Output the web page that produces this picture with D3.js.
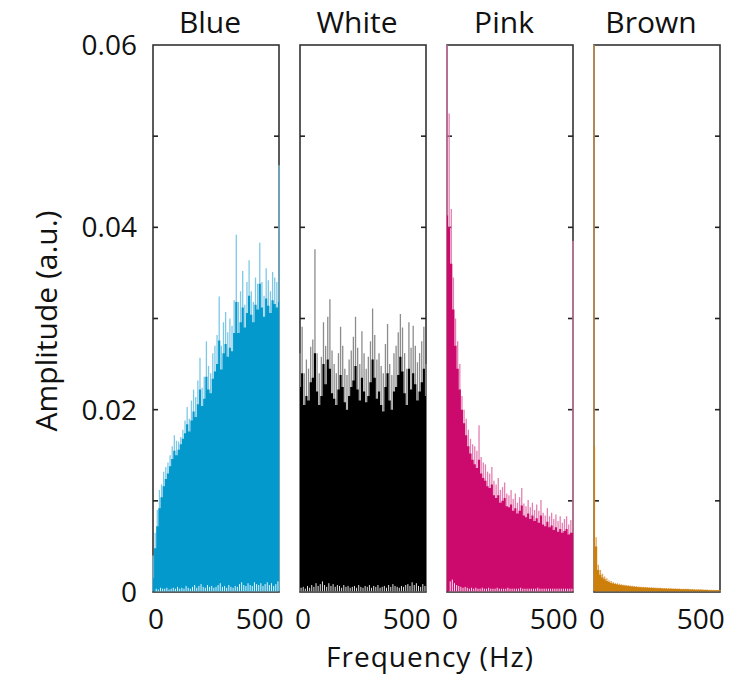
<!DOCTYPE html>
<html>
<head>
<meta charset="utf-8">
<script src="https://cdn.jsdelivr.net/npm/d3@7/dist/d3.min.js"></script>
<style>
  body { margin: 0; background: #fff; }
  svg text { font-family: "Open Sans", sans-serif; fill: #111; }
</style>
</head>
<body>
<div id="chart"></div>
<script>
// Noise spectra, one panel per colour
const panelNames = ['Blue', 'White', 'Pink', 'Brown'];

// frequency bins (Hz)
const freqs = [0, 10, 20, 30, 40, 50, 60, 70, 80, 90, 100, 110, 120, 130, 140, 150, 160, 170, 180, 190,
  200, 210, 220, 230, 240, 250, 260, 270, 280, 290, 300, 310, 320, 330, 340, 350, 360, 370, 380, 390,
  400, 410, 420, 430, 440, 450, 460, 470, 480, 490, 500, 510, 520, 530, 540, 550, 560, 570, 580, 590];

// spike tops (light), dense fill level (solid) and small dips at the floor
const bluePeak = [0.0040, 0.0065, 0.0090, 0.0112, 0.0118, 0.0132, 0.0137, 0.0142, 0.0150, 0.0160,
  0.0172, 0.0166, 0.0165, 0.0170, 0.0178, 0.0188, 0.0203, 0.0190, 0.0210, 0.0222,
  0.0214, 0.0232, 0.0257, 0.0224, 0.0236, 0.0275, 0.0248, 0.0240, 0.0262, 0.0270,
  0.0282, 0.0324, 0.0270, 0.0296, 0.0307, 0.0285, 0.0300, 0.0292, 0.0320, 0.0392,
  0.0318, 0.0330, 0.0352, 0.0315, 0.0340, 0.0364, 0.0330, 0.0318, 0.0345, 0.0338,
  0.0383, 0.0340, 0.0325, 0.0355, 0.0342, 0.0330, 0.0351, 0.0345, 0.0340, 0.0468];
const blueBody = [0.0015, 0.0048, 0.0072, 0.0092, 0.0104, 0.0116, 0.0124, 0.0130, 0.0138, 0.0146,
  0.0155, 0.0150, 0.0156, 0.0162, 0.0168, 0.0174, 0.0184, 0.0176, 0.0188, 0.0198,
  0.0192, 0.0206, 0.0222, 0.0204, 0.0212, 0.0236, 0.0222, 0.0218, 0.0234, 0.0242,
  0.0250, 0.0276, 0.0244, 0.0262, 0.0272, 0.0258, 0.0268, 0.0264, 0.0284, 0.0318,
  0.0284, 0.0296, 0.0312, 0.0290, 0.0306, 0.0325, 0.0304, 0.0296, 0.0315, 0.0310,
  0.0338, 0.0312, 0.0302, 0.0322, 0.0314, 0.0306, 0.0320, 0.0316, 0.0312, 0.0318];
const blueDip = [0, 0.0002, 0.0001, 0.0003, 0.0002, 0.0002, 0.0003, 0.0001, 0.0002, 0.0003,
  0.0002, 0.0004, 0.0002, 0.0003, 0.0002, 0.0005, 0.0003, 0.0002, 0.0004, 0.0006,
  0.0003, 0.0005, 0.0007, 0.0004, 0.0003, 0.0006, 0.0004, 0.0005, 0.0003, 0.0004,
  0.0006, 0.0008, 0.0004, 0.0005, 0.0003, 0.0006, 0.0004, 0.0003, 0.0005, 0.0004,
  0.0007, 0.0009, 0.0006, 0.0005, 0.0008, 0.0006, 0.0005, 0.0009, 0.0007, 0.0006,
  0.0008, 0.0005, 0.0007, 0.0009, 0.0006, 0.0008, 0.0005, 0.0007, 0.0010, 0];

const whitePeak = [0.0262, 0.0291, 0.0240, 0.0255, 0.0245, 0.0269, 0.0277, 0.0376, 0.0262, 0.0240,
  0.0258, 0.0296, 0.0270, 0.0302, 0.0321, 0.0265, 0.0250, 0.0240, 0.0262, 0.0291,
  0.0270, 0.0245, 0.0238, 0.0255, 0.0265, 0.0280, 0.0302, 0.0268, 0.0250, 0.0286,
  0.0262, 0.0245, 0.0258, 0.0275, 0.0311, 0.0282, 0.0255, 0.0262, 0.0248, 0.0240,
  0.0272, 0.0294, 0.0250, 0.0238, 0.0262, 0.0270, 0.0285, 0.0305, 0.0290, 0.0262,
  0.0245, 0.0296, 0.0268, 0.0292, 0.0270, 0.0252, 0.0262, 0.0275, 0.0291, 0.0250];
const whiteBody = [0.0225, 0.0240, 0.0205, 0.0215, 0.0210, 0.0230, 0.0235, 0.0262, 0.0220, 0.0205,
  0.0215, 0.0250, 0.0228, 0.0255, 0.0245, 0.0218, 0.0212, 0.0205, 0.0222, 0.0238,
  0.0225, 0.0208, 0.0200, 0.0215, 0.0225, 0.0232, 0.0248, 0.0222, 0.0210, 0.0235,
  0.0220, 0.0208, 0.0215, 0.0230, 0.0255, 0.0235, 0.0212, 0.0220, 0.0205, 0.0198,
  0.0225, 0.0240, 0.0210, 0.0200, 0.0220, 0.0225, 0.0238, 0.0258, 0.0242, 0.0218,
  0.0205, 0.0245, 0.0222, 0.0240, 0.0228, 0.0210, 0.0220, 0.0230, 0.0245, 0.0215];
const whiteDip = [0.0003, 0.0004, 0.0002, 0.0005, 0.0003, 0.0006, 0.0004, 0.0008, 0.0005, 0.0007,
  0.0010, 0.0006, 0.0004, 0.0008, 0.0005, 0.0007, 0.0004, 0.0006, 0.0005, 0.0003,
  0.0006, 0.0004, 0.0005, 0.0003, 0.0004, 0.0005, 0.0003, 0.0006, 0.0004, 0.0003,
  0.0005, 0.0004, 0.0006, 0.0003, 0.0005, 0.0004, 0.0006, 0.0003, 0.0004, 0.0005,
  0.0003, 0.0006, 0.0004, 0.0007, 0.0005, 0.0004, 0.0003, 0.0005, 0.0004, 0.0006,
  0.0007, 0.0005, 0.0009, 0.0006, 0.0008, 0.0005, 0.0004, 0.0007, 0.0005, 0];

const pinkPeak = [0.0625, 0.0525, 0.0420, 0.0345, 0.0300, 0.0275, 0.0250, 0.0215, 0.0200, 0.0190,
  0.0178, 0.0168, 0.0162, 0.0160, 0.0155, 0.0183, 0.0148, 0.0142, 0.0140, 0.0132,
  0.0130, 0.0137, 0.0122, 0.0118, 0.0125, 0.0112, 0.0115, 0.0120, 0.0108, 0.0106,
  0.0112, 0.0102, 0.0108, 0.0098, 0.0104, 0.0114, 0.0097, 0.0094, 0.0101, 0.0093,
  0.0098, 0.0090, 0.0096, 0.0089, 0.0101, 0.0087, 0.0084, 0.0092, 0.0083, 0.0087,
  0.0080, 0.0085, 0.0078, 0.0083, 0.0076, 0.0080, 0.0083, 0.0074, 0.0079, 0.0385];
const pinkBody = [0.0413, 0.0400, 0.0360, 0.0310, 0.0270, 0.0245, 0.0222, 0.0200, 0.0185, 0.0172,
  0.0160, 0.0152, 0.0145, 0.0140, 0.0136, 0.0145, 0.0130, 0.0125, 0.0122, 0.0116,
  0.0114, 0.0118, 0.0106, 0.0103, 0.0106, 0.0098, 0.0100, 0.0103, 0.0094, 0.0093,
  0.0096, 0.0089, 0.0092, 0.0086, 0.0089, 0.0095, 0.0084, 0.0082, 0.0086, 0.0080,
  0.0084, 0.0078, 0.0081, 0.0076, 0.0084, 0.0074, 0.0072, 0.0077, 0.0071, 0.0073,
  0.0068, 0.0071, 0.0066, 0.0069, 0.0065, 0.0067, 0.0069, 0.0063, 0.0065, 0.0065];
const pinkDip = [0, 0.0010, 0.0012, 0.0008, 0.0006, 0.0005, 0.0004, 0.0003, 0.0004, 0.0003,
  0.0002, 0.0003, 0.0002, 0.0003, 0.0002, 0.0002, 0.0003, 0.0002, 0.0002, 0.0003,
  0.0002, 0.0002, 0.0002, 0.0003, 0.0002, 0.0002, 0.0002, 0.0002, 0.0003, 0.0002,
  0.0002, 0.0002, 0.0002, 0.0002, 0.0003, 0.0002, 0.0002, 0.0002, 0.0002, 0.0002,
  0.0002, 0.0002, 0.0003, 0.0002, 0.0002, 0.0002, 0.0002, 0.0002, 0.0002, 0.0002,
  0.0002, 0.0002, 0.0002, 0.0002, 0.0002, 0.0002, 0.0002, 0.0002, 0.0002, 0];

const brownPeak = [0.0625, 0.0060, 0.0030, 0.0024, 0.0020, 0.0017, 0.0015, 0.0013, 0.0012, 0.0011,
  0.00100, 0.00095, 0.00090, 0.00085, 0.00080, 0.00078, 0.00075, 0.00070, 0.00068, 0.00066,
  0.00064, 0.00060, 0.00058, 0.00057, 0.00055, 0.00054, 0.00052, 0.00052, 0.00050, 0.00048,
  0.00047, 0.00046, 0.00045, 0.00044, 0.00043, 0.00042, 0.00041, 0.00040, 0.00040, 0.00039,
  0.00038, 0.00037, 0.00036, 0.00036, 0.00035, 0.00034, 0.00033, 0.00032, 0.00031, 0.00030,
  0.00030, 0.00029, 0.00028, 0.00027, 0.00026, 0.00025, 0.00024, 0.00023, 0.00022, 0.00022];
const brownBody = [0.0160, 0.0050, 0.0024, 0.0019, 0.0016, 0.0014, 0.0012, 0.0011, 0.0010, 0.00092,
  0.00088, 0.00083, 0.00078, 0.00074, 0.00070, 0.00068, 0.00065, 0.00062, 0.00060, 0.00058,
  0.00056, 0.00053, 0.00051, 0.00050, 0.00048, 0.00047, 0.00046, 0.00045, 0.00044, 0.00042,
  0.00041, 0.00040, 0.00039, 0.00038, 0.00037, 0.00036, 0.00035, 0.00034, 0.00034, 0.00033,
  0.00032, 0.00031, 0.00030, 0.00030, 0.00029, 0.00028, 0.00027, 0.00026, 0.00025, 0.00025,
  0.00024, 0.00023, 0.00022, 0.00021, 0.00020, 0.00020, 0.00019, 0.00018, 0.00018, 0.00018];

const yTickLabels = [0, 0.02, 0.04, 0.06];
const yMinorTicks = [0.01, 0.02, 0.03, 0.04, 0.05];
const xTickLabels = [0, 500];

const panels = [
  { name: panelNames[0], peak: bluePeak, body: blueBody, dip: blueDip, fill: '#0399cc', spike: '#7ec8e6' },
  { name: panelNames[1], peak: whitePeak, body: whiteBody, dip: whiteDip, fill: '#000000', spike: '#8c8c8c' },
  { name: panelNames[2], peak: pinkPeak, body: pinkBody, dip: pinkDip, fill: '#cc0a6e', spike: '#e57fb2' },
  { name: panelNames[3], peak: brownPeak, body: brownBody, dip: null, fill: '#cc7f0a', spike: '#dca255' }
];

const width = 751;
const height = 676;
const plotTop = 45;
const plotBottom = 592;
const panelWidth = 126;
const panelStep = 147;
const firstLeft = 153;

const svg = d3.select('#chart')
  .append('svg')
  .attr('width', width)
  .attr('height', height);

const yScale = d3.scaleLinear()
  .domain([0, 0.06])
  .range([plotBottom, plotTop]);

panels.forEach((p, i) => {
  const left = firstLeft + i * panelStep;
  const xScale = d3.scaleLinear()
    .domain([0, 590])
    .range([left, left + panelWidth]);
  const binW = xScale(10) - xScale(0);

  // frame (drawn under the data, like the original)
  svg.append('rect')
    .attr('x', left)
    .attr('y', plotTop)
    .attr('width', panelWidth)
    .attr('height', plotBottom - plotTop)
    .style('fill', 'none')
    .style('stroke', '#333')
    .style('stroke-width', 1.6);

  // inner y ticks on both sides
  yMinorTicks.forEach(t => {
    svg.append('line')
      .attr('x1', left).attr('x2', left + 5)
      .attr('y1', yScale(t)).attr('y2', yScale(t))
      .style('stroke', '#222').style('stroke-width', 1.6);
    svg.append('line')
      .attr('x1', left + panelWidth - 5).attr('x2', left + panelWidth)
      .attr('y1', yScale(t)).attr('y2', yScale(t))
      .style('stroke', '#222').style('stroke-width', 1.6);
  });

  const clipId = 'clip-' + i;
  svg.append('clipPath')
    .attr('id', clipId)
    .append('rect')
    .attr('x', left - 1)
    .attr('y', plotTop)
    .attr('width', panelWidth + 2)
    .attr('height', plotBottom - plotTop - 0.8);

  const g = svg.append('g').attr('clip-path', `url(#${clipId})`);

  // light spikes
  g.selectAll('line.spike')
    .data(freqs)
    .enter().append('line')
    .attr('class', 'spike')
    .attr('x1', f => xScale(f))
    .attr('x2', f => xScale(f))
    .attr('y1', yScale(0))
    .attr('y2', (f, j) => yScale(p.peak[j]))
    .style('stroke', p.spike)
    .style('stroke-width', 1.3);

  // dense body
  const area = d3.area()
    .x(f => xScale(f))
    .y0(yScale(0))
    .y1((f, j) => yScale(p.body[j]))
    .curve(d3.curveStep);

  g.append('path')
    .datum(freqs)
    .attr('d', area)
    .style('fill', p.fill);

  // small white dips along the floor
  if (p.dip) {
    g.selectAll('line.dip')
      .data(freqs)
      .enter().append('line')
      .attr('class', 'dip')
      .attr('x1', f => xScale(f) + binW / 2)
      .attr('x2', f => xScale(f) + binW / 2)
      .attr('y1', yScale(0))
      .attr('y2', (f, j) => yScale(p.dip[j]) - 1.5)
      .style('stroke', '#fff')
      .style('stroke-width', (f, j) => p.dip[j] > 0 ? 0.9 : 0);
  }

  // x tick labels
  xTickLabels.forEach(t => {
    svg.append('text')
      .attr('x', xScale(t))
      .attr('dx', t === 0 ? 3 : 0)
      .attr('y', 629)
      .attr('text-anchor', 'middle')
      .style('font-size', '28px')
      .text(t);
  });

  // title
  svg.append('text')
    .attr('x', left + panelWidth / 2 - 6)
    .attr('y', 33)
    .attr('text-anchor', 'middle')
    .style('font-size', '30px')
    .text(p.name);
});

// y tick labels on first panel
yTickLabels.forEach(t => {
  svg.append('text')
    .attr('x', 137)
    .attr('y', yScale(t) + 10)
    .attr('text-anchor', 'end')
    .style('font-size', '28px')
    .text(t === 0 ? '0' : d3.format('.2f')(t));
});

// axis titles
svg.append('text')
  .attr('x', 430)
  .attr('y', 667)
  .attr('text-anchor', 'middle')
  .style('font-size', '28px')
  .style('letter-spacing', '1px')
  .text('Frequency (Hz)');

svg.append('text')
  .attr('transform', 'translate(57,321) rotate(-90)')
  .attr('text-anchor', 'middle')
  .style('font-size', '30px')
  .text('Amplitude (a.u.)');
</script>
</body>
</html>
